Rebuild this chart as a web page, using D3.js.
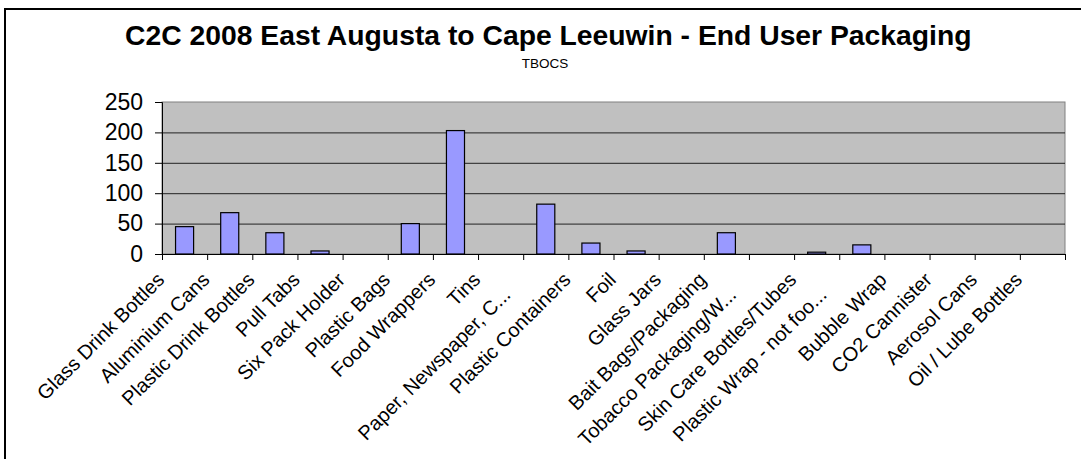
<!DOCTYPE html>
<html>
<head>
<meta charset="utf-8">
<script src="https://cdn.jsdelivr.net/npm/d3@7"></script>
<style>
  body { margin: 0; background: #fff; }
  text { font-family: "Liberation Sans", Arial, sans-serif; }
</style>
</head>
<body>
<svg width="1081" height="459"></svg>
<script>
var categories = ["Glass Drink Bottles", "Aluminium Cans", "Plastic Drink Bottles", "Pull Tabs",
    "Six Pack Holder", "Plastic Bags", "Food Wrappers", "Tins", "Paper, Newspaper, C...",
    "Plastic Containers", "Foil", "Glass Jars", "Bait Bags/Packaging", "Tobacco Packaging/W...",
    "Skin Care Bottles/Tubes", "Plastic Wrap - not foo...", "Bubble Wrap", "CO2 Cannister",
    "Aerosol Cans", "Oil / Lube Bottles"];
var counts = [45, 68, 35, 5, 0, 50, 203, 0, 82, 18, 5, 0, 35, 0, 3, 15, 0, 0, 0, 0];
var yTicks = [0, 50, 100, 150, 200, 250];
var title = "C2C 2008 East Augusta to Cape Leeuwin - End User Packaging";
var subtitle = "TBOCS";

var svg = d3.select("svg"),
    width = +svg.attr("width"),
    height = +svg.attr("height");

var plot = { left: 162, top: 102, right: 1065, bottom: 254 };

// chart frame, only its top and left edges are inside the picture
svg.append("rect")
    .attr("x", 5).attr("y", 9)
    .attr("width", width + 20).attr("height", height + 20)
    .attr("fill", "#fff")
    .attr("stroke", "#000")
    .attr("stroke-width", 2);

svg.append("text")
    .attr("x", 125).attr("y", 45)
    .attr("font-size", "28.3px")
    .attr("font-weight", "bold")
    .text(title);

svg.append("text")
    .attr("x", 545).attr("y", 68)
    .attr("text-anchor", "middle")
    .attr("font-size", "13.5px")
    .text(subtitle);

var x = d3.scaleBand()
    .domain(categories)
    .range([plot.left, plot.right])
    .paddingInner(0.6)
    .paddingOuter(0.3);

// category boundaries for the tick marks
var xEdge = d3.scaleLinear()
    .domain([0, categories.length])
    .range([plot.left, plot.right]);

var y = d3.scaleLinear()
    .domain([0, 250])
    .range([plot.bottom, plot.top]);

svg.append("rect")
    .attr("x", plot.left).attr("y", plot.top)
    .attr("width", plot.right - plot.left)
    .attr("height", plot.bottom - plot.top)
    .attr("fill", "#c0c0c0")
    .attr("stroke", "#808080")
    .attr("stroke-width", 1);

// gridlines
svg.append("g")
    .attr("transform", "translate(" + plot.left + ",0)")
    .call(d3.axisLeft(y).tickValues(yTicks.slice(1, -1)).tickSize(-(plot.right - plot.left)).tickFormat(""))
    .call(function (g) { g.select(".domain").remove(); })
    .selectAll("line")
    .attr("stroke", "#222");

var bars = counts.map(function (v, i) { return { name: categories[i], value: v }; })
    .filter(function (d) { return d.value > 0; });

svg.append("g").selectAll("rect")
    .data(bars)
    .enter().append("rect")
    .attr("x", function (d) { return x(d.name); })
    .attr("y", function (d) { return y(d.value); })
    .attr("width", x.bandwidth())
    .attr("height", function (d) { return y(0) - y(d.value); })
    .attr("fill", "#9999ff")
    .attr("stroke", "#000")
    .attr("stroke-width", 1.2);

// y axis
var yAxis = svg.append("g")
    .attr("transform", "translate(" + plot.left + ",0)")
    .call(d3.axisLeft(y).tickValues(yTicks).tickSize(7).tickPadding(12));
yAxis.select(".domain").attr("stroke", "#000");
yAxis.selectAll("line").attr("stroke", "#000");
yAxis.selectAll("text")
    .attr("font-size", "23px")
    .attr("font-family", "Liberation Sans, Arial, sans-serif")
    .attr("fill", "#000");

// x axis with marks between categories
var xAxis = svg.append("g")
    .attr("transform", "translate(0," + plot.bottom + ")")
    .call(d3.axisBottom(xEdge).tickValues(d3.range(categories.length + 1)).tickSize(6).tickSizeOuter(0).tickFormat(""));
xAxis.selectAll("line, path").attr("stroke", "#000");

svg.append("g").selectAll("text")
    .data(categories)
    .enter().append("text")
    .attr("transform", function (d) {
        var shift = d.slice(-3) === "..." ? 15 : 0;
        var cx = x(d) + x.bandwidth() / 2 - 19 - shift;
        var cy = plot.bottom + 27 + shift;
        return "translate(" + cx + "," + cy + ") rotate(-45)";
    })
    .attr("text-anchor", "end")
    .attr("font-size", "20px")
    .text(function (d) { return d; });
</script>
</body>
</html>
